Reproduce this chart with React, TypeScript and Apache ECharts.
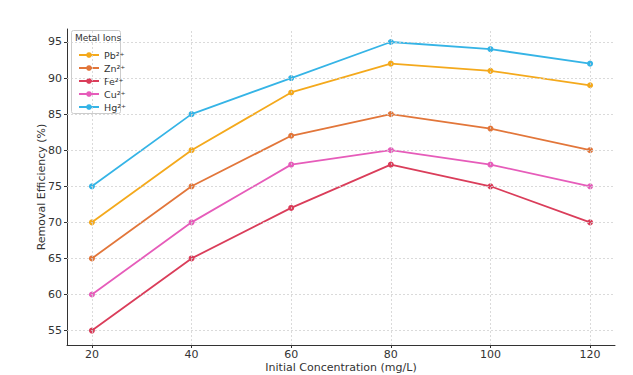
import React, { useEffect, useRef } from "react";
import * as echarts from "echarts";

const concentrations = [20, 40, 60, 80, 100, 120];
const ionNames = ["Pb²⁺", "Zn²⁺", "Fe²⁺", "Cu²⁺", "Hg²⁺"];
const pbValues = [70, 80, 88, 92, 91, 89];
const znValues = [65, 75, 82, 85, 83, 80];
const feValues = [55, 65, 72, 78, 75, 70];
const cuValues = [60, 70, 78, 80, 78, 75];
const hgValues = [75, 85, 90, 95, 94, 92];
const yTicks = [55, 60, 65, 70, 75, 80, 85, 90, 95];
const xTicks = [20, 40, 60, 80, 100, 120];
const colors = ["#F4A91C", "#E2763A", "#DA3D5A", "#E65CBA", "#35B4E6"];

export default function App() {
  const ref = useRef<HTMLDivElement>(null);
  useEffect(() => {
    document.body.style.margin = "0";
    const chart = echarts.init(ref.current!, null, { renderer: "svg" });
    const allValues = [pbValues, znValues, feValues, cuValues, hgValues];
    const series: any[] = allValues.map((vals, i) => ({
      name: ionNames[i],
      type: "line",
      data: concentrations.map((c, j) => [c, vals[j]]),
      symbol: "circle",
      symbolSize: 6,
      z: 3,
      lineStyle: { color: colors[i], width: 1.8 },
      itemStyle: { color: colors[i] },
    }));
    series.push({
      name: "grid",
      type: "line",
      data: [],
      z: 1,
      silent: true,
      markLine: {
        silent: true,
        symbol: "none",
        label: { show: false },
        animation: false,
        lineStyle: { color: "#d0d0d0", width: 0.8, type: [2, 2] },
        data: [
          ...xTicks.map((v) => ({ xAxis: v })),
          ...yTicks.map((v) => ({ yAxis: v })),
        ],
      },
    });
    chart.setOption({
      animation: false,
      textStyle: { fontFamily: "DejaVu Sans" },
      grid: { left: 67, right: 18, top: 29, bottom: 30, outerBoundsMode: "none", containLabel: false },
      xAxis: {
        type: "value",
        min: 15,
        max: 125,
        name: "Initial Concentration (mg/L)",
        nameLocation: "middle",
        nameGap: 17,
        nameMoveOverlap: false,
        nameTextStyle: { fontSize: 11, color: "#333" },
        axisLine: { show: true, lineStyle: { color: "#333", width: 1 } },
        axisTick: { show: true, length: 3, customValues: xTicks, lineStyle: { color: "#333" } },
        axisLabel: { customValues: xTicks, fontSize: 11, color: "#333", margin: 4 },
        splitLine: { show: false },
      },
      yAxis: {
        type: "value",
        min: 53,
        max: 96.8,
        name: "Removal Efficiency (%)",
        nameLocation: "middle",
        nameGap: 20,
        nameMoveOverlap: false,
        nameTextStyle: { fontSize: 11, color: "#333" },
        axisLine: { show: true, lineStyle: { color: "#333", width: 1 } },
        axisTick: { show: true, length: 3, customValues: yTicks, lineStyle: { color: "#333" } },
        axisLabel: { customValues: yTicks, fontSize: 11, color: "#333", margin: 5 },
        splitLine: { show: false },
      },
      legend: {
        data: ionNames,
        orient: "vertical",
        left: 73,
        top: 45,
        itemWidth: 20,
        itemHeight: 7,
        itemGap: 3,
        textStyle: { fontSize: 9.5, color: "#333" },
      },
      graphic: [
        {
          type: "rect",
          left: 71,
          top: 30,
          z: 0,
          shape: { width: 49, height: 83, r: 2 },
          style: { fill: "rgba(255,255,255,0.9)", stroke: "#cccccc", lineWidth: 1 },
        },
        {
          type: "text",
          left: 75,
          top: 33,
          z: 10,
          style: { text: "Metal Ions", fontSize: 9, fill: "#333", fontFamily: "DejaVu Sans" },
        },
      ],
      series,
    });
    return () => chart.dispose();
  }, []);
  return <div ref={ref} style={{ width: 633, height: 375 }} />;
}
